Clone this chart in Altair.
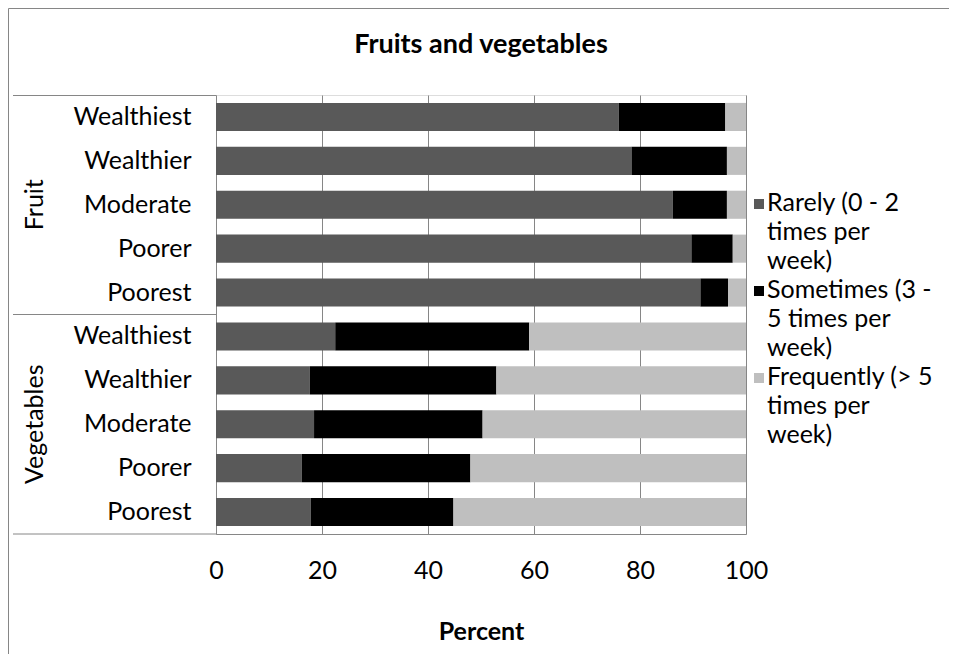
import altair as alt
import pandas as pd

# ---------------- data ----------------
groups = ["Fruit"] * 5 + ["Vegetables"] * 5
levels = ["Wealthiest", "Wealthier", "Moderate", "Poorer", "Poorest"] * 2
rarely = [76.0, 78.4, 86.2, 89.7, 91.4, 22.5, 17.7, 18.5, 16.2, 17.9]
sometimes = [20.1, 18.0, 10.2, 7.8, 5.2, 36.6, 35.2, 31.8, 31.8, 26.9]
frequently = [3.9, 3.6, 3.6, 2.5, 3.4, 40.9, 47.1, 49.7, 52.0, 55.2]

series_names = [
    "Rarely (0 - 2 times per week)",
    "Sometimes (3 - 5 times per week)",
    "Frequently (> 5 times per week)",
]
series_lines = [
    "Rarely (0 - 2|times per|week)",
    "Sometimes (3 -|5 times per|week)",
    "Frequently (> 5|times per|week)",
]
series_colors = ["#595959", "#000000", "#bfbfbf"]
x_ticks = [0, 20, 40, 60, 80, 100]

# ---------------- tables ----------------
keys = [f"{g}|{l}" for g, l in zip(groups, levels)]
rows = []
for i, k in enumerate(keys):
    for j, (name, vals) in enumerate(zip(series_names, [rarely, sometimes, frequently])):
        rows.append({"key": k, "series": name, "order": j, "value": vals[i]})
df = pd.DataFrame(rows)

group_names = ["Fruit", "Vegetables"]
group_df = pd.DataFrame({"group": group_names, "key": [f"{g}|Moderate" for g in group_names]})
legend_df = pd.DataFrame({"series": series_names, "lines": series_lines})

FONT = "Lato"
FS = 25
TFS = 27
W, H = 530, 439
GRAY = "#868686"

color_scale = alt.Scale(domain=series_names, range=series_colors)
y_scale = alt.Scale(domain=keys, paddingInner=0.36, paddingOuter=0.18)

bars = alt.Chart(df).mark_bar().encode(
    x=alt.X("value:Q", stack="zero",
            scale=alt.Scale(domain=[0, 100], nice=False),
            axis=alt.Axis(values=x_ticks, title="Percent", grid=True, gridColor=GRAY,
                          domainColor=GRAY, ticks=False, tickSize=0, labelFlush=False,
                          labelFont=FONT, labelFontSize=FS, labelColor="#000",
                          labelPadding=24, titleFont=FONT, titleFontSize=FS,
                          titleFontWeight="bold", titleColor="#000", titlePadding=36)),
    y=alt.Y("key:N", sort=keys, scale=y_scale,
            axis=alt.Axis(title=None, grid=False, ticks=False, tickSize=0,
                          domainColor=GRAY, labelFont=FONT, labelFontSize=FS,
                          labelColor="#000", labelPadding=25, labelLimit=300,
                          labelExpr="split(datum.value, '|')[1]")),
    color=alt.Color("series:N", scale=color_scale, legend=None),
    order=alt.Order("order:Q"),
)

group_text = alt.Chart(group_df).mark_text(
    angle=270, font=FONT, fontSize=FS, color="#000", align="center", baseline="middle"
).encode(
    x=alt.value(-181),
    y=alt.Y("key:N", sort=keys, scale=y_scale, axis=None),
    text="group:N",
)

# bracket / separator lines left of the plot
sep_top = alt.Chart(pd.DataFrame({"a": [0]})).mark_rule(color=GRAY, strokeWidth=1).encode(
    x=alt.value(-203), x2=alt.value(0), y=alt.value(0.5))
sep_mid = alt.Chart(pd.DataFrame({"a": [0]})).mark_rule(color=GRAY, strokeWidth=1).encode(
    x=alt.value(-203), x2=alt.value(0), y=alt.value(H / 2))
sep_bot = alt.Chart(pd.DataFrame({"a": [0]})).mark_rule(color=GRAY, strokeWidth=1).encode(
    x=alt.value(-203), x2=alt.value(0), y=alt.value(H))

# outer chart border (left and top)
border_left = alt.Chart(pd.DataFrame({"a": [0]})).mark_rule(color=GRAY, strokeWidth=1).encode(
    x=alt.value(-207.5), y=alt.value(-86.5), y2=alt.value(H + 130))
border_top = alt.Chart(pd.DataFrame({"a": [0]})).mark_rule(color=GRAY, strokeWidth=1).encode(
    x=alt.value(-207.5), x2=alt.value(W + 220), y=alt.value(-86.5))

title = alt.Chart(pd.DataFrame({"t": ["Fruits and vegetables"]})).mark_text(
    font=FONT, fontSize=TFS, fontWeight="bold", color="#000", align="center", baseline="middle"
).encode(x=alt.value(W / 2), y=alt.value(-50), text="t:N")

leg_y = alt.Scale(domain=series_names, type="point", range=[109, 283], padding=0)
legend_sq = alt.Chart(legend_df).mark_square(size=100, opacity=1).encode(
    x=alt.value(543),
    y=alt.Y("series:N", sort=series_names, scale=leg_y, axis=None),
    color=alt.Color("series:N", scale=color_scale, legend=None),
)
legend_txt = alt.Chart(legend_df).mark_text(
    font=FONT, fontSize=FS, color="#000", align="left", baseline="top",
    lineBreak="|", lineHeight=29, dy=-13
).encode(
    x=alt.value(551),
    y=alt.Y("series:N", sort=series_names, scale=leg_y, axis=None),
    text="lines:N",
)

chart = alt.layer(
    bars, group_text, sep_top, sep_mid, sep_bot, border_left, border_top,
    title, legend_sq, legend_txt
).resolve_scale(y="independent").properties(
    width=W, height=H,
    autosize=alt.AutoSizeParams(type="none"),
    padding={"left": 208, "top": 87, "right": 203, "bottom": 120},
).configure_view(stroke=None).configure(background="white")

chart.save("out.html", embed_options={"renderer": "svg", "actions": False})
